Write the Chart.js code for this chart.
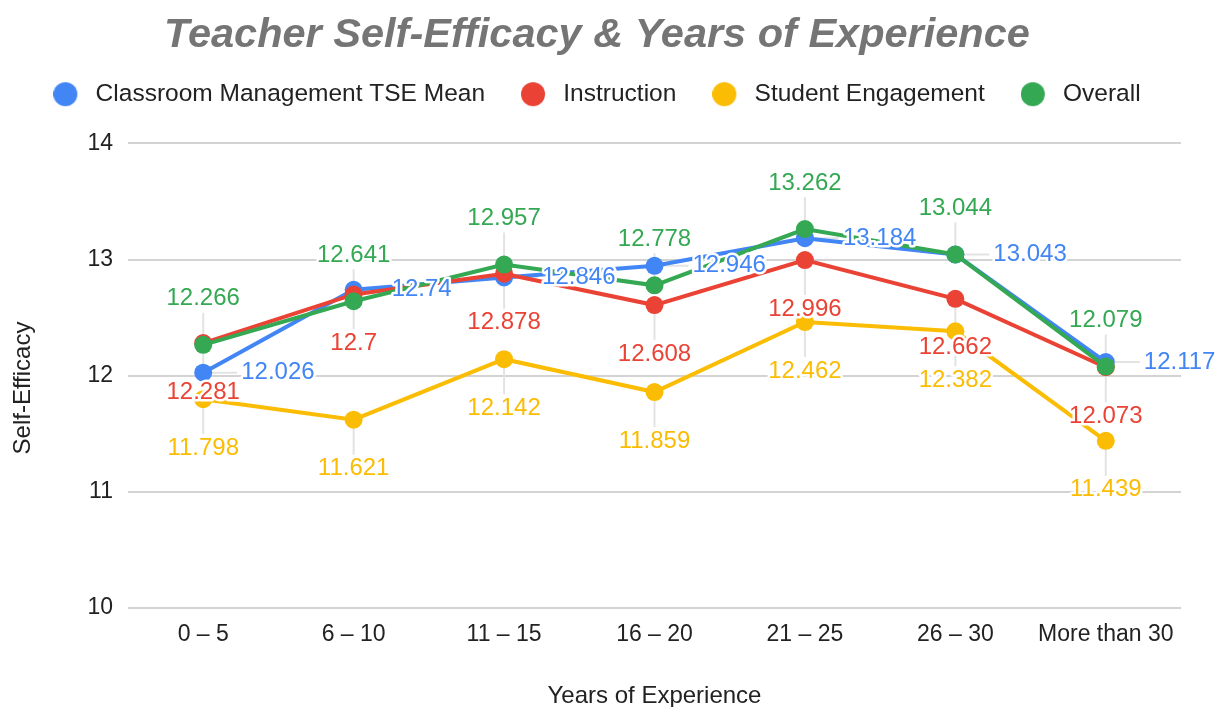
<!DOCTYPE html>
<html lang="en">
<head>
<meta charset="UTF-8" />
<title>Teacher Self-Efficacy &amp; Years of Experience</title>
<style>
  html, body { margin: 0; padding: 0; background: #fff; }
  canvas { display: block; }
</style>
</head>
<body>
<canvas id="tseChart" width="1223" height="707"></canvas>

<script src="https://cdn.jsdelivr.net/npm/chart.js"></script>
<script>
  const categories = ["0 – 5", "6 – 10", "11 – 15", "16 – 20", "21 – 25", "26 – 30", "More than 30"];
  const classroomMgmt = [12.026, 12.74, 12.846, 12.946, 13.184, 13.043, 12.117];
  const instruction = [12.281, 12.7, 12.878, 12.608, 12.996, 12.662, 12.073];
  const studentEngagement = [11.798, 11.621, 12.142, 11.859, 12.462, 12.382, 11.439];
  const overall = [12.266, 12.641, 12.957, 12.778, 13.262, 13.044, 12.079];
  const yTicks = [10, 11, 12, 13, 14];

  const FONT = "'Liberation Sans', Arial, sans-serif";
  const TEXT = "#222222";

  // where each series puts its value labels
  const series = [
    { label: "Classroom Management TSE Mean", data: classroomMgmt, color: "#4285f4", place: "right", order: 4 },
    { label: "Instruction", data: instruction, color: "#ea4335", place: "below", order: 3 },
    { label: "Student Engagement", data: studentEngagement, color: "#fbbc04", place: "below", order: 2 },
    { label: "Overall", data: overall, color: "#34a853", place: "above", order: 1 },
  ];

  function legendDot(color) {
    const c = document.createElement("canvas");
    c.width = 30;
    c.height = 26;
    const g = c.getContext("2d");
    g.fillStyle = color;
    g.beginPath();
    g.arc(12, 13, 12, 0, Math.PI * 2);
    g.fill();
    return c;
  }
  const legendDots = series.map((s) => legendDot(s.color));

  function labelAnchor(el, place) {
    if (place === "above") return { x: el.x, y: el.y - 46, align: "center", lx: el.x, ly: el.y - 32 };
    if (place === "below") return { x: el.x, y: el.y + 49, align: "center", lx: el.x, ly: el.y + 35 };
    return { x: el.x + 38, y: el.y, align: "left", lx: el.x + 34, ly: el.y };
  }

  const pointLabels = {
    id: "pointLabels",
    beforeDatasetsDraw(chart) {
      const ctx = chart.ctx;
      ctx.save();
      ctx.strokeStyle = "#e3e3e3";
      ctx.lineWidth = 2;
      series.forEach((s, i) => {
        chart.getDatasetMeta(i).data.forEach((el) => {
          const a = labelAnchor(el, s.place);
          ctx.beginPath();
          ctx.moveTo(el.x, el.y);
          ctx.lineTo(a.lx, a.ly);
          ctx.stroke();
        });
      });
      ctx.restore();
    },
    afterDatasetsDraw(chart) {
      const ctx = chart.ctx;
      ctx.save();
      ctx.font = "24px " + FONT;
      ctx.textBaseline = "middle";
      ctx.lineJoin = "round";
      ctx.lineWidth = 5;
      ctx.strokeStyle = "#ffffff";
      series.forEach((s, i) => {
        chart.getDatasetMeta(i).data.forEach((el, j) => {
          const a = labelAnchor(el, s.place);
          const txt = String(s.data[j]);
          ctx.textAlign = a.align;
          ctx.strokeText(txt, a.x, a.y);
          ctx.fillStyle = s.color;
          ctx.fillText(txt, a.x, a.y);
        });
      });
      ctx.restore();
    },
  };

  const yTitle = {
    id: "yTitle",
    afterDraw(chart) {
      const ctx = chart.ctx;
      ctx.save();
      ctx.translate(23, 388);
      ctx.rotate(-Math.PI / 2);
      ctx.font = "24px " + FONT;
      ctx.fillStyle = TEXT;
      ctx.textAlign = "center";
      ctx.textBaseline = "middle";
      ctx.fillText("Self-Efficacy", 0, 0);
      ctx.restore();
    },
  };

  // extra room between the legend and the plot
  const legendGap = {
    id: "legendGap",
    afterInit(chart) {
      const fit = chart.legend.fit;
      chart.legend.fit = function () {
        fit.call(this);
        this.height += 27;
      };
    },
  };

  new Chart(document.getElementById("tseChart"), {
    type: "line",
    data: {
      labels: categories,
      datasets: series.map((s) => ({
        label: s.label,
        data: s.data,
        borderColor: s.color,
        backgroundColor: s.color,
        pointBackgroundColor: s.color,
        pointBorderWidth: 0,
        pointRadius: 9,
        borderWidth: 4,
        order: s.order,
      })),
    },
    options: {
      responsive: false,
      animation: false,
      devicePixelRatio: 1,
      layout: { padding: { left: 13, right: 42, top: 0, bottom: 0 } },
      plugins: {
        tooltip: { enabled: false },
        title: {
          display: true,
          text: "Teacher Self-Efficacy & Years of Experience",
          color: "#757575",
          font: { family: FONT, size: 41.5, weight: "bold", style: "italic", lineHeight: 0.6 },
          padding: { top: 23, bottom: -2 },
        },
        legend: {
          labels: {
            usePointStyle: true,
            pointStyleWidth: 30,
            padding: 36,
            color: TEXT,
            font: { family: FONT, size: 24.5 },
            generateLabels(chart) {
              const items = Chart.defaults.plugins.legend.labels.generateLabels(chart);
              items.sort((a, b) => a.datasetIndex - b.datasetIndex);
              items.forEach((it) => (it.pointStyle = legendDots[it.datasetIndex]));
              return items;
            },
          },
        },
      },
      scales: {
        x: {
          offset: true,
          grid: { display: false, drawTicks: false },
          border: { display: false },
          ticks: { color: TEXT, font: { family: FONT, size: 23 }, padding: 13 },
          title: {
            display: true,
            text: "Years of Experience",
            color: TEXT,
            font: { family: FONT, size: 24, lineHeight: 1 },
            padding: { top: 22.4, bottom: -1 },
          },
        },
        y: {
          min: yTicks[0],
          max: yTicks[yTicks.length - 1],
          afterBuildTicks(scale) {
            scale.ticks = yTicks.map((v) => ({ value: v }));
          },
          afterFit(scale) {
            scale.width = 115;
          },
          grid: { color: "#d3d3d3", lineWidth: 2, drawTicks: false },
          border: { display: false },
          ticks: { color: TEXT, font: { family: FONT, size: 23 }, padding: 15 },
        },
      },
    },
    plugins: [legendGap, pointLabels, yTitle],
  });
</script>
</body>
</html>
